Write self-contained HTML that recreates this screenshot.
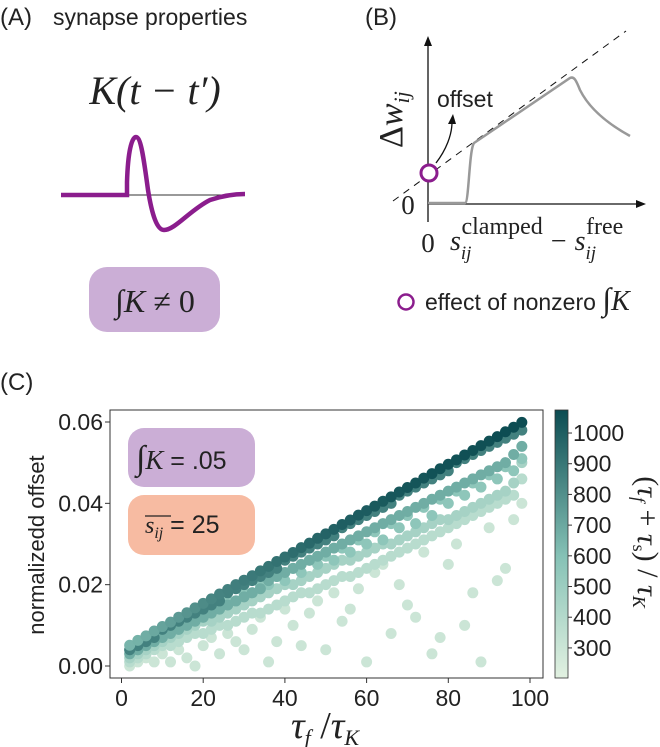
<!DOCTYPE html>
<html><head><meta charset="utf-8"><style>
body{margin:0;background:#fff;width:660px;height:747px;overflow:hidden;font-family:"Liberation Sans",sans-serif}
svg{display:block}
</style></head><body>
<svg width="660" height="747" viewBox="0 0 660 747" xmlns="http://www.w3.org/2000/svg">
<!-- Panel A -->
<g>
<text x="0" y="25" font-size="24" fill="#222">(A)</text>
<text x="53" y="25" font-size="23" fill="#222">synapse properties</text>
<text x="155" y="104" font-size="40" font-family="Liberation Serif,serif" font-style="italic" text-anchor="middle" fill="#222">K(t − t′)</text>
<line x1="127" y1="195" x2="245" y2="195" stroke="#333" stroke-width="1"/>
<path d="M61,195 L127,195 L127,182 C128,150 132,137 136,137 C141,137 144,160 148,190 C152,215 157,230 164,230 C175,230 190,210 210,200 C225,195 235,194 245,194" fill="none" stroke="#8b1d8d" stroke-width="4.5"/>
<rect x="89" y="267" width="131" height="65" rx="18" fill="#cbaed6"/>
<text x="155" y="312" font-size="32" font-family="Liberation Serif,serif" text-anchor="middle" fill="#222">∫<tspan font-style="italic">K</tspan> ≠ 0</text>
</g>
<!-- Panel B -->
<g>
<text x="365" y="25" font-size="24" fill="#222">(B)</text>
<line x1="428" y1="222" x2="428" y2="42" stroke="#111" stroke-width="1.3"/>
<path d="M428,36 L424,46 L432,46 Z" fill="#111"/>
<line x1="428" y1="204" x2="640" y2="204" stroke="#111" stroke-width="1.3"/>
<path d="M646,204 L636,200 L636,208 Z" fill="#111"/>
<line x1="393" y1="201" x2="626" y2="31" stroke="#111" stroke-width="1" stroke-dasharray="7,6"/>
<path d="M428,203 L465,203 C469,203 469,150 474,143 L570,78 C574,76 576,80 580,90 C590,110 610,125 630,136" fill="none" stroke="#999" stroke-width="2.5"/>
<path d="M436,163 C446,150 452,135 452,122" fill="none" stroke="#111" stroke-width="1.3"/>
<path d="M453,114 L448,124 L456,124 Z" fill="#111"/>
<circle cx="429" cy="173" r="8" fill="#fff" stroke="#8b1d8d" stroke-width="3"/>
<text x="437" y="107" font-size="23" fill="#222">offset</text>
<text x="408" y="214" font-size="27" font-family="Liberation Serif,serif" text-anchor="middle" fill="#222">0</text>
<text x="428" y="252" font-size="27" font-family="Liberation Serif,serif" text-anchor="middle" fill="#222">0</text>
<text x="0" y="0" font-size="34" font-family="Liberation Serif,serif" fill="#222" transform="translate(402,148) rotate(-90)">Δ<tspan font-style="italic">w</tspan><tspan font-style="italic" font-size="22" dy="7">ij</tspan></text>
<text x="450" y="250" font-size="28" font-family="Liberation Serif,serif" font-style="italic" fill="#222">s<tspan font-size="19" dy="9">ij</tspan><tspan font-style="normal" font-size="24" dx="-10" dy="-25">clamped</tspan><tspan font-style="normal" dx="8" dy="16">−</tspan><tspan dx="8">s</tspan><tspan font-size="19" dy="9">ij</tspan><tspan font-style="normal" font-size="24" dx="-10" dy="-25">free</tspan></text>
<circle cx="406" cy="302" r="7.5" fill="#fff" stroke="#8b1d8d" stroke-width="2.5"/>
<text x="425" y="310" font-size="23" fill="#222">effect of nonzero <tspan font-family="Liberation Serif,serif" font-size="32">∫</tspan><tspan font-family="Liberation Serif,serif" font-style="italic" font-size="28">K</tspan></text>
</g>
<!-- Panel C -->
<g>
<text x="0" y="390" font-size="24" fill="#222">(C)</text>
<g id="plot"></g>
<rect x="110" y="410" width="433" height="268" fill="none" stroke="#333" stroke-width="1"/>
<rect x="128" y="428" width="127" height="59" rx="16" fill="#cbaed6"/>
<text x="136" y="469" font-size="25" fill="#222"><tspan font-family="Liberation Serif,serif" font-size="34">∫</tspan><tspan font-family="Liberation Serif,serif" font-style="italic" font-size="27">K</tspan>  =  .05</text>
<rect x="128" y="495" width="127" height="60" rx="16" fill="#f7bba2"/>
<line x1="145" y1="516" x2="171" y2="516" stroke="#222" stroke-width="1.2"/>
<text x="145" y="533" font-size="25" fill="#222"><tspan font-family="Liberation Serif,serif" font-style="italic" font-size="24">s</tspan><tspan font-family="Liberation Serif,serif" font-style="italic" font-size="16" dy="5">ij</tspan><tspan dy="-5">  =  25</tspan></text>
<text x="0" y="0" font-size="22" fill="#222" text-anchor="middle" transform="translate(44,545) rotate(-90)">normalizedd offset</text>
<text x="325" y="738" font-size="38" font-family="Liberation Serif,serif" font-style="italic" text-anchor="middle" fill="#222">τ<tspan font-size="22" dy="7">f</tspan><tspan dy="-7" font-style="normal"> /</tspan>τ<tspan font-size="22" dy="7">K</tspan></text>
<defs><linearGradient id="cg" x1="0" y1="1" x2="0" y2="0">
<stop offset="0" stop-color="#e2f1e1"/><stop offset="0.45" stop-color="#86c2b6"/><stop offset="1" stop-color="#0c4c52"/></linearGradient></defs>
<rect x="555" y="410" width="13" height="268" fill="url(#cg)" stroke="#333" stroke-width="0.8"/>
<g id="cbticks"></g>
<text x="0" y="0" font-size="30" font-family="Liberation Serif,serif" font-style="italic" fill="#222" text-anchor="middle" transform="translate(638,542) rotate(90)"><tspan font-style="normal">(</tspan>τ<tspan font-size="18" dy="5">f</tspan><tspan dy="-5" font-style="normal"> + </tspan>τ<tspan font-size="18" dy="5" font-style="normal">s</tspan><tspan dy="-5" font-style="normal">) / </tspan>τ<tspan font-size="18" dy="5">K</tspan></text>
</g>
</svg>
<script>
const xVals=[2,4,6,8,10,12,14,16,18,20,22,24,26,28,30,32,34,36,38,40,42,44,46,48,50,52,54,56,58,60,62,64,66,68,70,72,74,76,78,80,82,84,86,88,90,92,94,96,98];
const sTop=[.0051,.0063,.0074,.0086,.0097,.0108,.0120,.0131,.0143,.0154,.0165,.0177,.0188,.0200,.0211,.0222,.0234,.0245,.0257,.0268,.0279,.0291,.0302,.0314,.0325,.0336,.0348,.0359,.0371,.0382,.0393,.0405,.0416,.0428,.0439,.0450,.0462,.0473,.0485,.0496,.0507,.0519,.0530,.0542,.0553,.0564,.0576,.0587,.0599];
const topColor=[650,660,680,700,720,740,760,780,800,820,840,850,860,870,880,890,900,910,920,930,940,950,960,970,980,990,1000,1000,1010,1010,1020,1020,1030,1030,1040,1040,1040,1050,1050,1050,1050,1060,1060,1060,1060,1070,1070,1070,1070];
const s850=[.004,.005,.006,.007,.009,.010,.011,.012,.013,.014,.015,.016,.018,.019,.020,.021,.022,.023,.024,.026,.027,.028,.029,.030,.031,.032,.034,.035,.036,.037,.038,.039,.040,.042,.043,.044,.045,.046,.047,.048,.050,.051,.052,.053,.054,.055,.056,.057,.058];
const s650=[.003,.004,.005,.006,.007,.008,.009,.010,.011,.012,.013,.014,.015,.016,.017,.018,.019,.021,.022,.023,.024,.025,.026,.027,.028,.029,.030,.031,.032,.033,.034,.035,.036,.037,.038,.039,.040,.041,.042,.043,.044,.045,.046,.047,.048,.049,.050,.052,.054];
const s550=[.004,.004,.006,.006,.008,.009,.009,.011,.012,.012,.014,.014,.016,.016,.018,.018,.020,.020,.022,.021,.024,.023,.026,.025,.027,.026,.029,.028,.031,.030,.033,.031,.035,.034,.037,.035,.039,.037,.041,.040,.043,.042,.045,.044,.047,.046,.049,.048,.051];
const s450=[.002,.003,.004,.005,.006,.007,.008,.009,.010,.011,.011,.012,.013,.014,.015,.016,.017,.018,.019,.020,.020,.021,.022,.023,.024,.025,.026,.026,.027,.028,.029,.030,.030,.031,.032,.033,.034,.035,.036,.036,.037,.038,.039,.040,.041,.042,.043,.045,.050];
const s380=[.001,.002,.003,.004,.005,.005,.006,.007,.008,.008,.009,.010,.010,.011,.012,.013,.013,.014,.015,.016,.017,.018,.018,.019,.020,.021,.022,.022,.023,.024,.025,.026,.027,.028,.029,.030,.031,.032,.033,.034,.035,.036,.037,.038,.039,.040,.041,.042,.046];
const s300=[.000,.001,.002,.001,.003,.001,.004,.002,.000,.005,.007,.003,.008,.006,.004,.009,.012,.001,.006,.014,.010,.005,.013,.016,.004,.018,.011,.014,.019,.001,.023,.025,.008,.020,.015,.012,.028,.003,.007,.025,.030,.010,.018,.001,.034,.021,.024,.036,.040];
const seriesList=[s300,s380,s450,s550,s650,s850];
const seriesColor=[300,380,460,560,680,860];
const xTicks=[0,20,40,60,80,100];
const yTicks=[0,0.02,0.04,0.06];
const yTickLabels=["0.00","0.02","0.04","0.06"];
const cbTicks=[300,400,500,600,700,800,900,1000];

const NS="http://www.w3.org/2000/svg";
const xS=v=>121.5+(v/100)*408.5;
const yS=v=>666-(v/0.06)*244;
const cS=v=>678-(v-202)/(1075-202)*268;
function lerp(a,b,t){return a+(b-a)*t}
function col(v){
  let t=Math.max(0,Math.min(1,(v-202)/(1075-202)));
  const st=[[0,[226,241,225]],[0.45,[134,194,182]],[1,[12,76,82]]];
  let i=t<=0.45?0:1;
  const a=st[i],b=st[i+1],u=(t-a[0])/(b[0]-a[0]);
  return `rgb(${[0,1,2].map(k=>Math.round(lerp(a[1][k],b[1][k],u))).join(',')})`;
}
const plot=document.getElementById('plot');
function dot(x,y,c){
  const e=document.createElementNS(NS,'circle');
  e.setAttribute('cx',xS(x));e.setAttribute('cy',yS(y));e.setAttribute('r',5.5);e.setAttribute('fill',col(c));
  
  
  plot.appendChild(e);
}
seriesList.forEach((s,si)=>s.forEach((y,i)=>dot(xVals[i],y,seriesColor[si])));
sTop.forEach((y,i)=>dot(xVals[i],y,topColor[i]));
function txt(parent,x,y,s,anchor,size){
  const t=document.createElementNS(NS,'text');
  t.setAttribute('x',x);t.setAttribute('y',y);t.setAttribute('font-size',size||23);t.setAttribute('fill','#222');t.setAttribute('text-anchor',anchor);
  t.textContent=s;parent.appendChild(t);return t;
}
function ln(parent,x1,y1,x2,y2){
  const l=document.createElementNS(NS,'line');
  l.setAttribute('x1',x1);l.setAttribute('y1',y1);l.setAttribute('x2',x2);l.setAttribute('y2',y2);l.setAttribute('stroke','#333');l.setAttribute('stroke-width',1);
  parent.appendChild(l);
}
const axg=document.createElementNS(NS,'g');


document.querySelector('svg').appendChild(axg);
xTicks.forEach(v=>{ln(axg,xS(v),678,xS(v),683);const t=txt(axg,xS(v),706,String(v),'middle');

});
yTicks.forEach((v,i)=>{ln(axg,105,yS(v),110,yS(v));const t=txt(axg,103,yS(v)+8,yTickLabels[i],'end');

});
const cb=document.getElementById('cbticks');
cbTicks.forEach(v=>{ln(cb,568,cS(v),572,cS(v));const t=txt(cb,573,cS(v)+8,String(v),'start');

});
</script>
</body></html>
